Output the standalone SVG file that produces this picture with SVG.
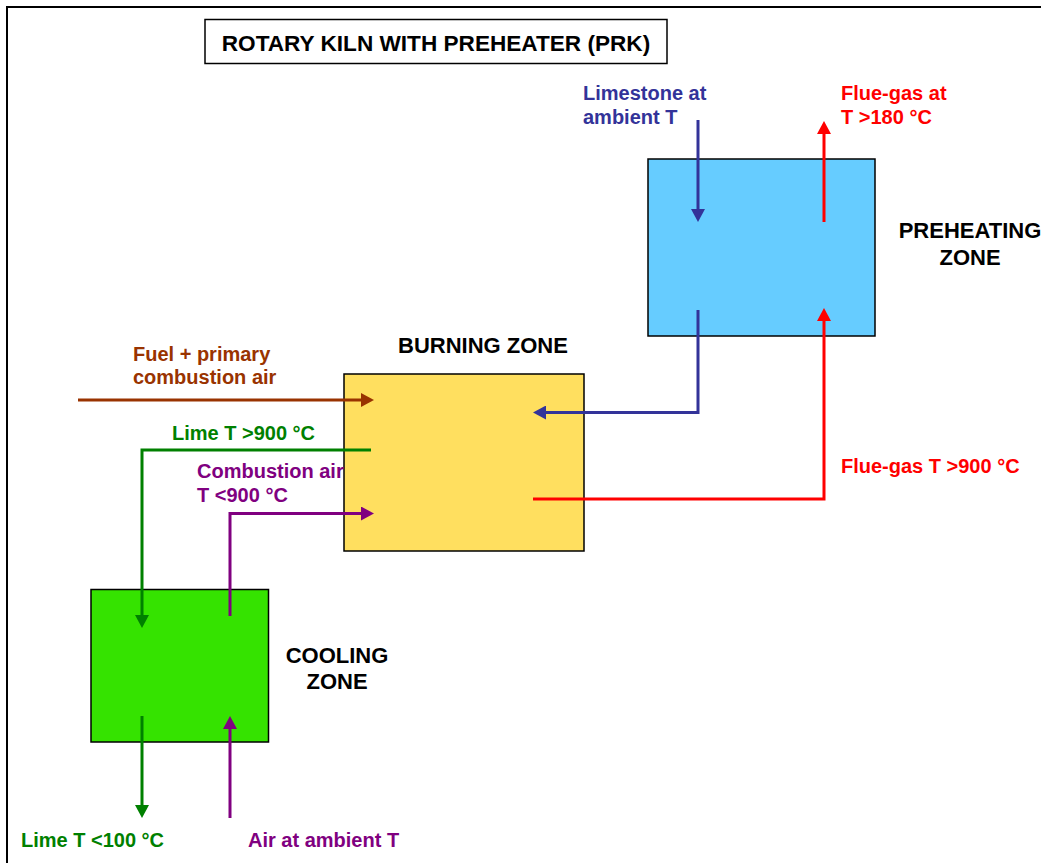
<svg xmlns="http://www.w3.org/2000/svg" width="1041" height="863" viewBox="0 0 1041 863">
<style>
.lbl{font-family:"Liberation Sans",Arial,sans-serif;font-weight:bold;font-size:20px}
.zone{font-family:"Liberation Sans",Arial,sans-serif;font-weight:bold;font-size:22px;fill:#000}
.box{stroke:#000;stroke-width:1.5}
.c{fill:none;stroke-width:3}
</style>
<defs>
<marker id="aBlue" viewBox="0 0 13 14" refX="0" refY="7" markerWidth="13" markerHeight="14" markerUnits="userSpaceOnUse" orient="auto"><path d="M0,0 L13,7 L0,14 z" fill="#333399"/></marker>
<marker id="aRed" viewBox="0 0 13 14" refX="0" refY="7" markerWidth="13" markerHeight="14" markerUnits="userSpaceOnUse" orient="auto"><path d="M0,0 L13,7 L0,14 z" fill="#FF0000"/></marker>
<marker id="aBrown" viewBox="0 0 13 14" refX="0" refY="7" markerWidth="13" markerHeight="14" markerUnits="userSpaceOnUse" orient="auto"><path d="M0,0 L13,7 L0,14 z" fill="#993300"/></marker>
<marker id="aGreen" viewBox="0 0 13 14" refX="0" refY="7" markerWidth="13" markerHeight="14" markerUnits="userSpaceOnUse" orient="auto"><path d="M0,0 L13,7 L0,14 z" fill="#008000"/></marker>
<marker id="aPurple" viewBox="0 0 13 14" refX="0" refY="7" markerWidth="13" markerHeight="14" markerUnits="userSpaceOnUse" orient="auto"><path d="M0,0 L13,7 L0,14 z" fill="#800080"/></marker>
</defs>
<rect width="1041" height="863" fill="#fff"/>
<path d="M7,863 V7 H1041" fill="none" stroke="#000" stroke-width="2"/>
<g id="title">
<rect x="205" y="19.5" width="462" height="44" fill="#fff" class="box"/>
<text x="436" y="51" text-anchor="middle" font-family="Liberation Sans,Arial,sans-serif" font-weight="bold" font-size="22.6" fill="#000">ROTARY KILN WITH PREHEATER (PRK)</text>
</g>
<g id="preheating-zone">
<rect x="648" y="159" width="227" height="177" fill="#66CCFF" class="box"/>
<text class="zone" x="970" y="238" text-anchor="middle">PREHEATING</text>
<text class="zone" x="970" y="265" text-anchor="middle">ZONE</text>
</g>
<g id="burning-zone">
<rect x="344" y="374" width="240" height="177" fill="#FFDF5F" class="box"/>
<text class="zone" x="483" y="353" text-anchor="middle">BURNING ZONE</text>
</g>
<g id="cooling-zone">
<rect x="91" y="589.5" width="177.5" height="152.5" fill="#35E300" class="box"/>
<text class="zone" x="337" y="663" text-anchor="middle">COOLING</text>
<text class="zone" x="337" y="689" text-anchor="middle">ZONE</text>
</g>
<g id="labels">
<text class="lbl" fill="#333399" x="583" y="100">Limestone at</text>
<text class="lbl" fill="#333399" x="583" y="124">ambient T</text>
<text class="lbl" fill="#FF0000" x="841" y="100">Flue-gas at</text>
<text class="lbl" fill="#FF0000" x="841" y="124">T &gt;180 °C</text>
<text class="lbl" fill="#993300" x="133" y="361">Fuel + primary</text>
<text class="lbl" fill="#993300" x="133" y="384">combustion air</text>
<text class="lbl" fill="#008000" x="172" y="440">Lime T &gt;900 °C</text>
<text class="lbl" fill="#800080" x="197" y="478">Combustion air</text>
<text class="lbl" fill="#800080" x="197" y="502">T &lt;900 °C</text>
<text class="lbl" fill="#FF0000" x="841" y="473">Flue-gas T &gt;900 °C</text>
<text class="lbl" fill="#008000" x="21" y="847">Lime T &lt;100 °C</text>
<text class="lbl" fill="#800080" x="248" y="847">Air at ambient T</text>
</g>
<g id="connectors">
<path class="c" stroke="#333399" d="M698,120 V209" marker-end="url(#aBlue)"/>
<path class="c" stroke="#FF0000" d="M824,222 V134" marker-end="url(#aRed)"/>
<path class="c" stroke="#333399" d="M698,310 V412.5 H546" marker-end="url(#aBlue)"/>
<path class="c" stroke="#FF0000" d="M533,499 H824 V321" marker-end="url(#aRed)"/>
<path class="c" stroke="#993300" d="M78,400 H361" marker-end="url(#aBrown)"/>
<path class="c" stroke="#008000" d="M371,450 H142 V615" marker-end="url(#aGreen)"/>
<path class="c" stroke="#800080" d="M230,616 V513.5 H361" marker-end="url(#aPurple)"/>
<path class="c" stroke="#008000" d="M142,716 V805" marker-end="url(#aGreen)"/>
<path class="c" stroke="#800080" d="M230,818 V729" marker-end="url(#aPurple)"/>
</g>
</svg>
